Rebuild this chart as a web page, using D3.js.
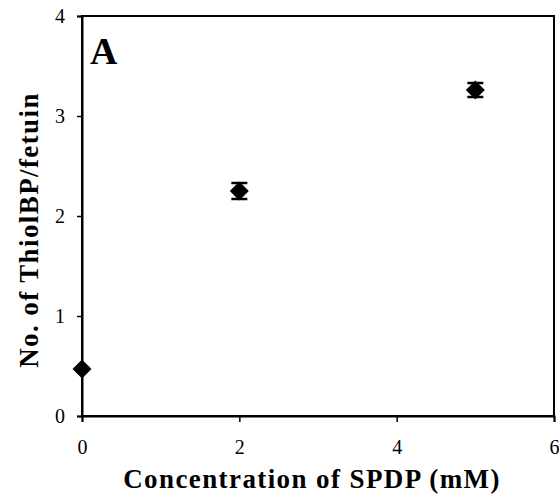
<!DOCTYPE html>
<html>
<head>
<meta charset="utf-8">
<script src="https://cdn.jsdelivr.net/npm/d3@7"></script>
<style>
  body { margin: 0; background: #fff; }
  svg text { font-family: "Liberation Serif", "Times New Roman", Times, serif !important; }
</style>
</head>
<body>
<script>
// data
let conc = [0, 2, 5];
let thiol = [0.47, 2.25, 3.26];
let errs = [0.02, 0.08, 0.07];
let xTicks = [0, 2, 4, 6];
let yTicks = [0, 1, 2, 3, 4];

let W = 559, H = 502;
let pLeft = 82, pRight = 554, pTop = 16, pBottom = 416;

let svg = d3.select("body")
    .append("svg")
    .attr("width", W)
    .attr("height", H);

let x = d3.scaleLinear().domain([0, 6]).range([pLeft, pRight]);
let y = d3.scaleLinear().domain([0, 4]).range([pBottom, pTop]);

// frame
svg.append("rect")
    .attr("x", pLeft)
    .attr("y", pTop)
    .attr("width", pRight - pLeft)
    .attr("height", pBottom - pTop)
    .attr("fill", "none")
    .attr("stroke", "black")
    .attr("stroke-width", 2);

let xAxis = svg.append("g")
    .attr("transform", `translate(0,${pBottom})`)
    .call(d3.axisBottom(x).tickValues(xTicks).tickSize(6).tickPadding(18).tickFormat(d3.format("d")));

let yAxis = svg.append("g")
    .attr("transform", `translate(${pLeft},0)`)
    .call(d3.axisLeft(y).tickValues(yTicks).tickSize(5).tickPadding(12).tickFormat(d3.format("d")));

[xAxis, yAxis].map((g) => {
    g.attr("font-family", null);
    g.select(".domain").attr("stroke-width", 2);
    g.selectAll(".tick line").attr("stroke-width", 1.5);
    g.selectAll(".tick text")
        .attr("font-size", 20)
        .attr("fill", "black");
});

// error bars
let pts = conc.map((c, i) => ({ c: c, v: thiol[i], e: errs[i] }));

let eb = svg.append("g").selectAll("g").data(pts).join("g");
eb.append("line")
    .attr("x1", (d) => x(d.c)).attr("x2", (d) => x(d.c))
    .attr("y1", (d) => y(d.v + d.e)).attr("y2", (d) => y(d.v - d.e))
    .attr("stroke", "black").attr("stroke-width", 2);
eb.filter((d) => d.e > 0.03).selectAll("line.cap")
    .data((d) => [d.v + d.e, d.v - d.e].map((v) => ({ c: d.c, v: v })))
    .join("line")
    .attr("class", "cap")
    .attr("x1", (d) => x(d.c) - 8).attr("x2", (d) => x(d.c) + 8)
    .attr("y1", (d) => y(d.v)).attr("y2", (d) => y(d.v))
    .attr("stroke", "black").attr("stroke-width", 2.5);

// diamonds
svg.append("g").selectAll("path").data(pts).join("path")
    .attr("d", (d) => {
        let cx = x(d.c), cy = y(d.v);
        return `M ${cx} ${cy - 9.5} L ${cx + 9.5} ${cy} L ${cx} ${cy + 9.5} L ${cx - 9.5} ${cy} Z`;
    })
    .attr("fill", "black");

// panel label
svg.append("text")
    .attr("x", 90)
    .attr("y", 64)
    .attr("font-size", 38)
    .attr("font-weight", "bold")
    .text("A");

// axis titles
svg.append("text")
    .attr("x", 312)
    .attr("y", 488)
    .attr("text-anchor", "middle")
    .attr("font-size", 27)
    .attr("font-weight", "bold")
    .attr("letter-spacing", 1.4)
    .text("Concentration of SPDP (mM)");

svg.append("text")
    .attr("transform", `translate(38,230) rotate(-90)`)
    .attr("text-anchor", "middle")
    .attr("font-size", 27)
    .attr("font-weight", "bold")
    .attr("letter-spacing", 1.4)
    .text("No. of ThiolBP/fetuin");
</script>
</body>
</html>
